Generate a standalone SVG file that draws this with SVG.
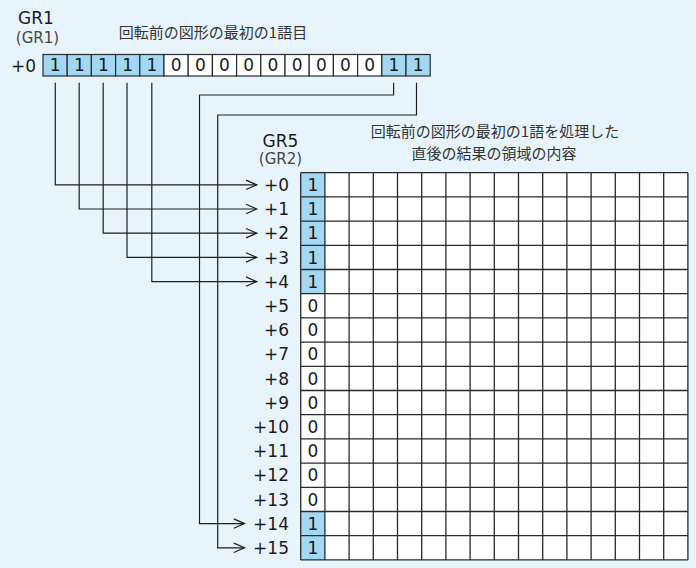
<svg xmlns="http://www.w3.org/2000/svg" width="696" height="568" viewBox="0 0 696 568">
<defs>
<style>
.bg{fill:#e8f4fc}
.cell{fill:#ffffff;stroke:#2a2a2a;stroke-width:1.2}
.on{fill:#a2d8f4;stroke:#2a2a2a;stroke-width:1.2}
.gl{fill:none;stroke:#2a2a2a;stroke-width:1.3}
.d{font-family:"DejaVu Sans","Liberation Sans",sans-serif;font-size:17px;fill:#1a1a1a;text-anchor:middle}
.lbl{font-family:"DejaVu Sans","Liberation Sans",sans-serif;font-size:17px;fill:#1a1a1a;text-anchor:end}
.t{font-family:"DejaVu Sans","Liberation Sans",sans-serif;font-size:17px;fill:#1a1a1a;text-anchor:middle}
.ts{font-family:"DejaVu Sans","Liberation Sans",sans-serif;font-size:15px;fill:#444;text-anchor:middle}
.jp{font-family:"Noto Sans CJK JP","Noto Sans",sans-serif;font-size:15px;fill:#333;text-anchor:middle}
.c{fill:none;stroke:#1e1e1e;stroke-width:1.2}
</style>
<marker id="ah" markerUnits="userSpaceOnUse" markerWidth="14" markerHeight="12" viewBox="-12 -6 14 12" refX="0" refY="0" orient="auto">
<path d="M-10.7,-4.7 L0,0 L-10.7,4.7" fill="none" stroke="#1e1e1e" stroke-width="1.2"/>
</marker>
</defs>
<rect class="bg" x="0" y="0" width="696" height="568"/>

<g id="gr1-label">
<text class="t" x="36" y="24">GR1</text>
<text class="ts" x="37.5" y="43">(GR1)</text>
<text class="lbl" x="36" y="71.5">+0</text>
</g>
<g id="caption-top">
<text class="jp" x="213" y="38">回転前の図形の最初の1語目</text>
</g>

<g id="gr1-word">
<rect class="on" x="43" y="54.5" width="24.2" height="21.5"/>
<rect class="on" x="67.2" y="54.5" width="24.2" height="21.5"/>
<rect class="on" x="91.4" y="54.5" width="24.2" height="21.5"/>
<rect class="on" x="115.6" y="54.5" width="24.2" height="21.5"/>
<rect class="on" x="139.8" y="54.5" width="24.2" height="21.5"/>
<rect class="cell" x="164" y="54.5" width="24.2" height="21.5"/>
<rect class="cell" x="188.2" y="54.5" width="24.2" height="21.5"/>
<rect class="cell" x="212.4" y="54.5" width="24.2" height="21.5"/>
<rect class="cell" x="236.6" y="54.5" width="24.2" height="21.5"/>
<rect class="cell" x="260.8" y="54.5" width="24.2" height="21.5"/>
<rect class="cell" x="285" y="54.5" width="24.2" height="21.5"/>
<rect class="cell" x="309.2" y="54.5" width="24.2" height="21.5"/>
<rect class="cell" x="333.4" y="54.5" width="24.2" height="21.5"/>
<rect class="cell" x="357.6" y="54.5" width="24.2" height="21.5"/>
<rect class="on" x="381.8" y="54.5" width="24.2" height="21.5"/>
<rect class="on" x="406" y="54.5" width="24.2" height="21.5"/>
<text class="d" x="55.1" y="71.3">1</text>
<text class="d" x="79.3" y="71.3">1</text>
<text class="d" x="103.5" y="71.3">1</text>
<text class="d" x="127.7" y="71.3">1</text>
<text class="d" x="151.9" y="71.3">1</text>
<text class="d" x="176.1" y="71.3">0</text>
<text class="d" x="200.3" y="71.3">0</text>
<text class="d" x="224.5" y="71.3">0</text>
<text class="d" x="248.7" y="71.3">0</text>
<text class="d" x="272.9" y="71.3">0</text>
<text class="d" x="297.1" y="71.3">0</text>
<text class="d" x="321.3" y="71.3">0</text>
<text class="d" x="345.5" y="71.3">0</text>
<text class="d" x="369.7" y="71.3">0</text>
<text class="d" x="393.9" y="71.3">1</text>
<text class="d" x="418.1" y="71.3">1</text>
</g>

<g id="gr5-label">
<text class="t" x="280.5" y="146.5">GR5</text>
<text class="ts" x="280.5" y="163.5">(GR2)</text>
</g>
<g id="caption-right">
<text class="jp" x="495" y="137">回転前の図形の最初の1語を処理した</text>
<text class="jp" x="494" y="159">直後の結果の領域の内容</text>
</g>

<g id="gr5-grid">
<rect x="300.7" y="172.7" width="387.2" height="387.2" fill="#ffffff"/>
<rect x="300.7" y="172.7" width="24.2" height="121" fill="#a2d8f4"/>
<rect x="300.7" y="511.5" width="24.2" height="48.4" fill="#a2d8f4"/>
<path class="gl" d="M300.7,172.7H687.9M300.7,196.9H687.9M300.7,221.1H687.9M300.7,245.3H687.9M300.7,269.5H687.9M300.7,293.7H687.9M300.7,317.9H687.9M300.7,342.1H687.9M300.7,366.3H687.9M300.7,390.5H687.9M300.7,414.7H687.9M300.7,438.9H687.9M300.7,463.1H687.9M300.7,487.3H687.9M300.7,511.5H687.9M300.7,535.7H687.9M300.7,559.9H687.9"/>
<path class="gl" d="M300.7,172.7V559.9M324.9,172.7V559.9M349.1,172.7V559.9M373.3,172.7V559.9M397.5,172.7V559.9M421.7,172.7V559.9M445.9,172.7V559.9M470.1,172.7V559.9M494.3,172.7V559.9M518.5,172.7V559.9M542.7,172.7V559.9M566.9,172.7V559.9M591.1,172.7V559.9M615.3,172.7V559.9M639.5,172.7V559.9M663.7,172.7V559.9M687.9,172.7V559.9"/>
<text class="d" x="312.8" y="191">1</text>
<text class="d" x="312.8" y="215.2">1</text>
<text class="d" x="312.8" y="239.4">1</text>
<text class="d" x="312.8" y="263.6">1</text>
<text class="d" x="312.8" y="287.8">1</text>
<text class="d" x="312.8" y="312">0</text>
<text class="d" x="312.8" y="336.2">0</text>
<text class="d" x="312.8" y="360.4">0</text>
<text class="d" x="312.8" y="384.6">0</text>
<text class="d" x="312.8" y="408.8">0</text>
<text class="d" x="312.8" y="433">0</text>
<text class="d" x="312.8" y="457.2">0</text>
<text class="d" x="312.8" y="481.4">0</text>
<text class="d" x="312.8" y="505.6">0</text>
<text class="d" x="312.8" y="529.8">1</text>
<text class="d" x="312.8" y="554">1</text>
</g>

<g id="gr5-offsets">
<text class="lbl" x="289" y="191">+0</text>
<text class="lbl" x="289" y="215.2">+1</text>
<text class="lbl" x="289" y="239.4">+2</text>
<text class="lbl" x="289" y="263.6">+3</text>
<text class="lbl" x="289" y="287.8">+4</text>
<text class="lbl" x="289" y="312">+5</text>
<text class="lbl" x="289" y="336.2">+6</text>
<text class="lbl" x="289" y="360.4">+7</text>
<text class="lbl" x="289" y="384.6">+8</text>
<text class="lbl" x="289" y="408.8">+9</text>
<text class="lbl" x="289" y="433">+10</text>
<text class="lbl" x="289" y="457.2">+11</text>
<text class="lbl" x="289" y="481.4">+12</text>
<text class="lbl" x="289" y="505.6">+13</text>
<text class="lbl" x="289" y="529.8">+14</text>
<text class="lbl" x="289" y="554">+15</text>
</g>

<g id="connectors">
<path class="c" marker-end="url(#ah)" d="M55.3,82.7V184.8H256.7"/>
<path class="c" marker-end="url(#ah)" d="M79.2,82.7V209H256.7"/>
<path class="c" marker-end="url(#ah)" d="M103.2,82.7V233.2H256.7"/>
<path class="c" marker-end="url(#ah)" d="M127,82.7V257.4H256.7"/>
<path class="c" marker-end="url(#ah)" d="M151.8,82.7V281.6H256.7"/>
<path class="c" marker-end="url(#ah)" d="M393.6,82.7V95H199.5V523.6H244.5"/>
<path class="c" marker-end="url(#ah)" d="M416.5,82.7V115H217.7V547.8H244.5"/>
</g>
</svg>
